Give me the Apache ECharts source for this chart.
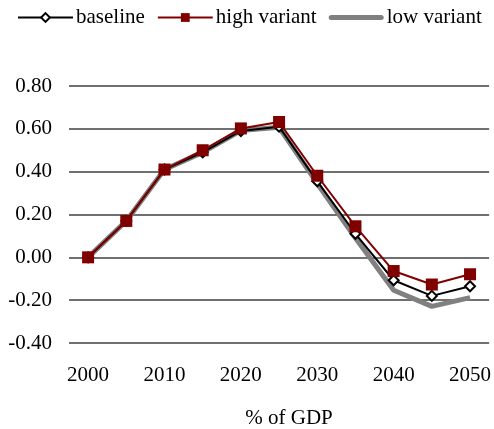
<!DOCTYPE html>
<html><head><meta charset="utf-8">
<script src="https://cdn.jsdelivr.net/npm/echarts@6/dist/echarts.min.js"></script>
<style>html,body{margin:0;padding:0;background:#fff}#c{width:494px;height:429px}</style>
</head><body><div id="c"></div>
<script>
const categories = ['2000','2005','2010','2015','2020','2025','2030','2035','2040','2045','2050'];
const baseline = [0, 0.17, 0.41, 0.49, 0.59, 0.61, 0.355, 0.11, -0.107, -0.18, -0.135];
const highVariant = [0, 0.17, 0.41, 0.50, 0.602, 0.632, 0.381, 0.145, -0.064, -0.127, -0.079];
const lowVariant = [0, 0.17, 0.41, 0.49, 0.592, 0.607, 0.345, 0.09, -0.154, -0.229, -0.188];
const yTicks = { min: -0.4, max: 0.8, interval: 0.2 };
const axisTitle = '% of GDP';

const font = 'Liberation Serif';
const chart = echarts.init(document.getElementById('c'), null, { renderer: 'canvas' });
chart.setOption({
  animation: false,
  legend: {
    left: 12, top: 2,
    itemWidth: 55, itemHeight: 11, itemGap: 12,
    textStyle: { fontFamily: font, fontSize: 21, color: '#000', padding: [0, 0, 0, -2] },
    data: [
      { name: 'baseline', lineStyle: { width: 2, color: '#000' } },
      { name: 'high variant', lineStyle: { width: 2, color: '#800000' } },
      { name: 'low variant', icon: 'path://M2.5,0h50a2.5,2.5,0,0,1,0,5h-50a2.5,2.5,0,0,1,0,-5z' }
    ]
  },
  grid: { left: 69, right: 4, top: 86, bottom: 86 },
  xAxis: {
    type: 'category',
    data: categories,
    boundaryGap: true,
    axisLine: { show: false },
    axisTick: { show: false },
    axisLabel: { interval: 1, fontFamily: font, fontSize: 21, color: '#000', margin: 22 }
  },
  yAxis: {
    type: 'value',
    min: yTicks.min, max: yTicks.max, interval: yTicks.interval,
    axisLine: { show: false },
    axisTick: { show: false },
    axisLabel: { fontFamily: font, fontSize: 21, color: '#000', margin: 17,
      formatter: v => v.toFixed(2) },
    splitLine: { lineStyle: { color: '#404040', width: 1.5 } }
  },
  graphic: [{
    type: 'text', x: 289, y: 418,
    style: { text: axisTitle, fontFamily: font, fontSize: 21, fill: '#000',
      textAlign: 'center', textVerticalAlign: 'middle' }
  }],
  series: [
    {
      name: 'baseline', type: 'line', data: baseline, z: 3,
      symbol: 'diamond', symbolSize: 10, showAllSymbol: true,
      lineStyle: { color: '#000', width: 2 },
      itemStyle: { color: '#fff', borderColor: '#000', borderWidth: 2 }
    },
    {
      name: 'high variant', type: 'line', data: highVariant, z: 4,
      symbol: 'rect', symbolSize: 12, showAllSymbol: true,
      lineStyle: { color: '#800000', width: 2 },
      itemStyle: { color: '#800000', borderColor: '#800000', borderWidth: 0 }
    },
    {
      name: 'low variant', type: 'line', data: lowVariant, z: 2,
      symbol: 'none', showSymbol: false,
      lineStyle: { color: '#808080', width: 5 },
      itemStyle: { color: '#808080' }
    }
  ]
});
</script></body></html>
